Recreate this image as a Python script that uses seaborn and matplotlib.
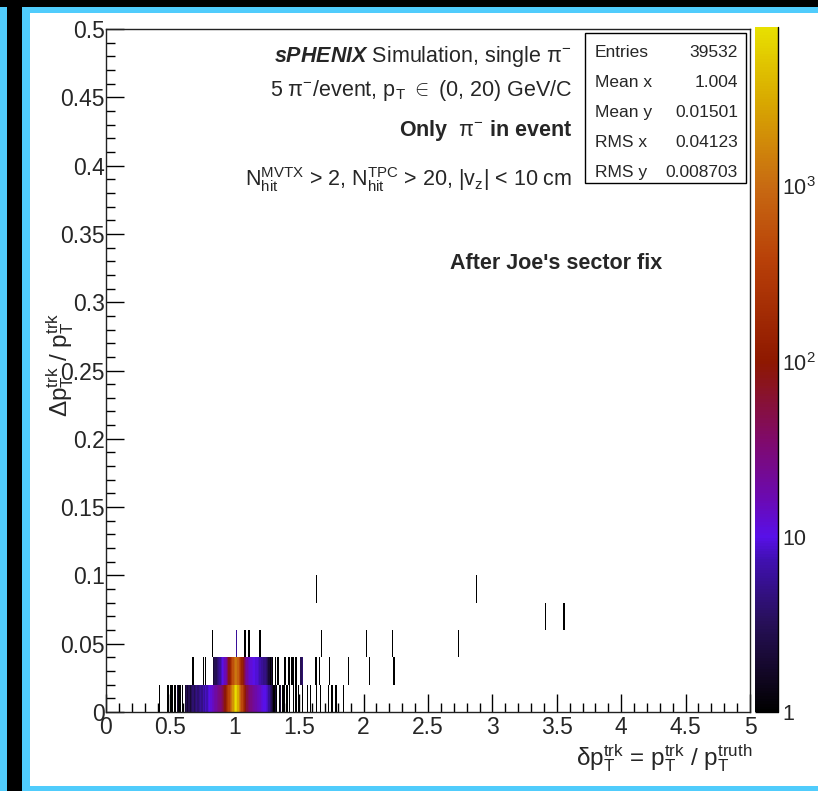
import numpy as np
import pandas as pd
import matplotlib
matplotlib.use("Agg")
import matplotlib.pyplot as plt
import seaborn as sns
from matplotlib.colors import LinearSegmentedColormap, LogNorm
from matplotlib.patches import Rectangle
from matplotlib.lines import Line2D

# ---------------- data (bin index = x*100, y rows of width 0.02) ----------------
row0_bins = [41, 47, 48, 50, 51, 53, 55, 56, 57, 59, 61, 62, 63, 64, 65, 66, 67, 68, 69, 70,
             71, 72, 73, 74, 75, 76, 77, 78, 79, 80, 81, 82, 83, 84, 85, 86, 87, 88, 89, 90,
             91, 92, 93, 94, 95, 96, 97, 98, 99, 100, 101, 102, 103, 104, 105, 106, 107, 108, 109, 110,
             111, 112, 113, 114, 115, 116, 117, 118, 119, 120, 121, 122, 123, 124, 125, 126, 127, 128, 129, 130,
             131, 132, 134, 135, 137, 138, 140, 142, 145, 147, 149, 152, 156, 158, 163, 166, 172, 175, 178, 184]
row0_counts = [1, 1, 1, 1, 1, 1, 2, 1, 1, 1, 2, 3, 2, 3, 2, 3, 4, 3, 4, 5,
               4, 5, 6, 5, 7, 6, 8, 7, 9, 10, 12, 14, 15, 18, 20, 24, 28, 30, 36, 45,
               60, 90, 160, 260, 420, 700, 1200, 2100, 4200, 7800, 6300, 3300, 1600, 850, 450, 250, 150, 90, 55, 40,
               32, 28, 24, 22, 20, 18, 16, 15, 14, 12, 11, 10, 10, 9, 8, 6, 4, 3, 2, 1,
               2, 1, 1, 2, 1, 1, 1, 1, 1, 1, 1, 1, 1, 1, 1, 1, 1, 1, 1, 1]

row1_bins = [67, 75, 77, 83, 84, 85, 86, 87, 88, 89, 90, 91, 92, 93, 94, 95, 96, 97, 98, 99,
             100, 101, 102, 103, 104, 105, 106, 107, 108, 109, 110, 111, 112, 113, 114, 115, 116, 117, 118, 119,
             120, 121, 122, 123, 124, 125, 126, 127, 128, 129, 131, 133, 138, 139, 141, 142, 144, 145, 147, 151,
             152, 162, 163, 165, 173, 188, 204, 223]
row1_counts = [1, 1, 1, 2, 3, 3, 4, 5, 6, 8, 10, 12, 16, 22, 40, 80, 150, 300, 550, 900,
               1300, 1200, 800, 450, 250, 140, 80, 50, 30, 20, 15, 13, 12, 11, 10, 10, 9, 9, 8, 7,
               6, 6, 5, 5, 4, 3, 2, 1, 2, 1, 1, 1, 1, 1, 1, 1, 1, 1, 1, 3,
               4, 1, 1, 1, 1, 1, 1, 1]

row2_bins = [82, 101, 107, 108, 110, 111, 119, 167, 202, 222, 273]
row2_counts = [1, 6, 1, 1, 1, 1, 1, 1, 1, 1, 1]

row3_bins = [341, 355]
row3_counts = [1, 1]

row4_bins = [163, 287]
row4_counts = [1, 1]

rows_bins = [row0_bins, row1_bins, row2_bins, row3_bins, row4_bins]
rows_counts = [row0_counts, row1_counts, row2_counts, row3_counts, row4_counts]

x_ticks = [0, 0.5, 1, 1.5, 2, 2.5, 3, 3.5, 4, 4.5, 5]
x_tick_labels = ["0", "0.5", "1", "1.5", "2", "2.5", "3", "3.5", "4", "4.5", "5"]
y_ticks = [0, 0.05, 0.1, 0.15, 0.2, 0.25, 0.3, 0.35, 0.4, 0.45, 0.5]
y_tick_labels = ["0", "0.05", "0.1", "0.15", "0.2", "0.25", "0.3", "0.35", "0.4", "0.45", "0.5"]
z_ticks = [1, 10, 100, 1000]
z_tick_labels = ["1", "10", r"$10^{2}$", r"$10^{3}$"]

stats_names = ["Entries", "Mean x", "Mean y", "RMS x", "RMS y"]
stats_values = ["39532", "1.004", "0.01501", "0.04123", "0.008703"]

x_bin_width = 0.01
y_bin_width = 0.02

# ---------------- build table ----------------
recs = []
for r, (bins, cnts) in enumerate(zip(rows_bins, rows_counts)):
    for b, c in zip(bins, cnts):
        recs.append(((b + 0.5) * x_bin_width, (r + 0.5) * y_bin_width, c))
df = pd.DataFrame(recs, columns=["x", "y", "w"])

# ---------------- style ----------------
sns.set_style("ticks")
plt.rcParams["font.family"] = ["Liberation Sans", "DejaVu Sans"]
plt.rcParams["mathtext.fontset"] = "custom"
plt.rcParams["mathtext.rm"] = "Liberation Sans"
plt.rcParams["mathtext.it"] = "Liberation Sans:italic"
plt.rcParams["mathtext.bf"] = "Liberation Sans:bold"
plt.rcParams["mathtext.sf"] = "Liberation Sans"
try:
    plt.rcParams["mathtext.bfit"] = "Liberation Sans:italic:bold"
except KeyError:
    pass

W, H = 818, 791
fig = plt.figure(figsize=(W / 100, H / 100), dpi=100)
fig.patch.set_facecolor("black")

def fx(x):
    return x / W

def fy(y):
    return 1 - y / H

blue = "#50ccfc"
fig.add_artist(Rectangle((fx(0), 0), fx(7), fy(7), transform=fig.transFigure,
                         facecolor=blue, edgecolor="none", zorder=-20))
fig.add_artist(Rectangle((fx(22), 0), 1 - fx(22), fy(7), transform=fig.transFigure,
                         facecolor=blue, edgecolor="none", zorder=-20))
fig.add_artist(Rectangle((fx(30), fy(786)), 1 - fx(30), fy(13) - fy(786), transform=fig.transFigure,
                         facecolor="white", edgecolor="none", zorder=-19))

ax = fig.add_axes([fx(106), fy(712), fx(750) - fx(106), fy(29) - fy(712)])
cax = fig.add_axes([fx(755), fy(712), fx(778) - fx(755), fy(27) - fy(712)])

cmap = LinearSegmentedColormap.from_list("rootbry", [
    (0.0, "#000000"), (0.047, "#100620"), (0.134, "#28105c"), (0.22, "#4010b0"),
    (0.255, "#5810e8"), (0.309, "#6a0ab4"), (0.397, "#800a6a"), (0.511, "#8e1800"),
    (0.66, "#b84008"), (0.769, "#c86a12"), (0.893, "#d8a800"), (1.0, "#e8e000")])

sns.histplot(data=df, x="x", y="y", weights="w",
             binwidth=(x_bin_width, y_bin_width), binrange=((0, 5), (0, 0.5)),
             cmap=cmap, cbar=False, ax=ax)
mesh = ax.collections[0]
mesh.set_norm(LogNorm(vmin=1, vmax=8130))
mesh.set_cmap(cmap)

ax.set_xlim(0, 5)
ax.set_ylim(0, 0.5)
ax.set_xlabel("")
ax.set_ylabel("")
ax.set_xticks(x_ticks)
ax.set_xticklabels(x_tick_labels)
ax.set_yticks(y_ticks)
ax.set_yticklabels(y_tick_labels)
ax.set_xticks(np.arange(0, 5.001, 0.1), minor=True)
ax.set_yticks(np.arange(0, 0.5001, 0.01), minor=True)
ax.tick_params(which="both", direction="in", top=False, right=False, color="black",
               labelsize=16.5, width=1)
ax.tick_params(which="major", length=13)
ax.tick_params(which="minor", length=6.5)
ax.tick_params(axis="x", pad=3)
ax.tick_params(axis="y", pad=1)
for s in ax.spines.values():
    s.set_visible(True)
    s.set_color("#222222")
    s.set_linewidth(1)

cb = fig.colorbar(mesh, cax=cax)
cb.outline.set_visible(False)
cb.set_ticks(z_ticks)
cb.set_ticklabels(z_tick_labels)
cax.tick_params(which="major", direction="in", length=16.5, width=1, color="black",
                labelsize=15.5, pad=3)
cax.tick_params(which="minor", direction="in", length=7, width=1, color="black")
cax.add_line(Line2D([1, 1], [0, 1], transform=cax.transAxes, color="black", lw=1, clip_on=False))

# ---------------- texts ----------------
tfs = 15.5
fig.text(fx(572), fy(62), r"$\mathbfit{sPHENIX}$ Simulation, single $\mathrm{\pi^{-}}$",
         ha="right", va="baseline", fontsize=tfs)
fig.text(fx(572), fy(96), r"5 $\mathrm{\pi^{-}}$/event, $\mathrm{p_{T}}$ $\in$ (0, 20) GeV/C",
         ha="right", va="baseline", fontsize=tfs)
fig.text(fx(572), fy(136), r"Only  $\mathrm{\pi^{-}}$ in event",
         ha="right", va="baseline", fontsize=tfs, fontweight="bold")
fig.text(fx(572), fy(186), r"$\mathrm{N_{hit}^{MVTX}}$ > 2, $\mathrm{N_{hit}^{TPC}}$ > 20, $\mathrm{|v_{z}|}$ < 10 cm",
         ha="right", va="baseline", fontsize=tfs)
fig.text(fx(556), fy(269), "After Joe's sector fix", ha="center", va="baseline",
         fontsize=tfs, fontweight="bold")

fig.text(fx(752), fy(765), r"$\mathrm{\delta p_{T}^{trk}}$ = $\mathrm{p_{T}^{trk}}$ / $\mathrm{p_{T}^{truth}}$",
         ha="right", va="baseline", fontsize=17.5)
fig.text(fx(60), fy(365), r"$\mathrm{\Delta p_{T}^{trk}}$ / $\mathrm{p_{T}^{trk}}$",
         ha="center", va="center", rotation=90, fontsize=17.5)

# stats box
fig.add_artist(Rectangle((fx(585), fy(183)), fx(746) - fx(585), fy(33) - fy(183),
                         transform=fig.transFigure, facecolor="white", edgecolor="black",
                         lw=1, zorder=5))
stat_base = [57, 87, 117, 147, 177]
for name, val, yb in zip(stats_names, stats_values, stat_base):
    fig.text(fx(595), fy(yb), name, ha="left", va="baseline", fontsize=12.5, zorder=6)
    fig.text(fx(738), fy(yb), val, ha="right", va="baseline", fontsize=12.5, zorder=6)

fig.savefig("out.png", dpi=100, facecolor=fig.get_facecolor())
